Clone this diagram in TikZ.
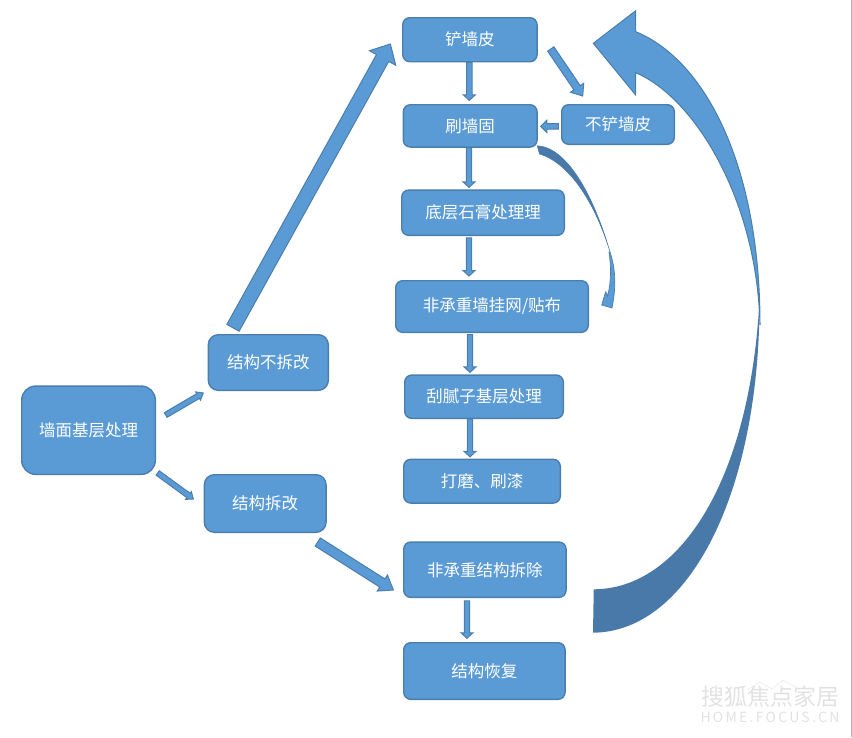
\documentclass[tikz,border=0pt]{standalone}
\usepackage{fontspec}
\setmainfont{Noto Sans CJK SC}
\usetikzlibrary{calc}
\definecolor{boxfill}{HTML}{5B9BD5}
\definecolor{boxline}{HTML}{4A7EAD}
\definecolor{bandfill}{HTML}{4879A8}
\definecolor{markgray}{HTML}{E2E2E2}
\tikzset{
  box/.style={draw=boxline,fill=boxfill,line width=1.4pt,rounded corners=7pt,text=white,font=\fontsize{16.5}{20}\selectfont,inner sep=0pt},
  blockarrow/.style n args={3}{draw=boxline,fill=boxfill,line width=1pt,
    to path={(\tikztostart) coordinate (p) (\tikztotarget) coordinate (q) ($(q)!#3!(p)$) coordinate (m)
      ($(p)!#1!90:(q)$) -- ($(m)!#1!-90:(p)$) -- ($(m)!#2!-90:(p)$) -- (q)
      -- ($(m)!#2!90:(p)$) -- ($(m)!#1!90:(p)$) -- ($(p)!#1!-90:(q)$) -- cycle}},
}
\begin{document}
\begin{tikzpicture}[x=1pt,y=-1pt]
\useasboundingbox (0,0) rectangle (852,737);
\draw [color=gray!60] (851.5,0) -- (851.5,737);

\node [box,minimum width=134.3pt,minimum height=44pt] (chan) at (469.9,39.7) {铲墙皮};
\node [box,minimum width=133.7pt,minimum height=42.3pt] (shua) at (470.2,125.9) {刷墙固};
\node [box,minimum width=112.6pt,minimum height=39.6pt] (buchan) at (618,124.5) {不铲墙皮};
\node [box,minimum width=162.6pt,minimum height=45.3pt] (diceng) at (483,212.7) {底层石膏处理理};
\node [box,minimum width=192.6pt,minimum height=51.6pt] (guawang) at (492,306.5) {非承重墙挂网/贴布};
\node [box,minimum width=158.6pt,minimum height=43.3pt] (guani) at (484,396.7) {刮腻子基层处理};
\node [box,minimum width=156.6pt,minimum height=43.7pt] (damo) at (482,481.2) {打磨、刷漆};
\node [box,minimum width=162.3pt,minimum height=55.3pt] (chaichu) at (484.9,569.7) {非承重结构拆除};
\node [box,minimum width=161.3pt,minimum height=56.6pt] (huifu) at (484.4,671) {结构恢复};
\node [box,rounded corners=14pt,minimum width=133.6pt,minimum height=88.3pt] (jiceng) at (88.5,430.2) {墙面基层处理};
\node [box,rounded corners=10pt,minimum width=120pt,minimum height=55.6pt] (bugai) at (268.3,362.5) {结构不拆改};
\node [box,rounded corners=10pt,minimum width=121.7pt,minimum height=57.6pt] (chaigai) at (265.2,503.5) {结构拆改};

\draw [blockarrow={2.7pt}{6pt}{5.5pt}] ($(chan.south)+(-.6,0)$) to ($(shua.north)+(-.9,-3.7)$);
\draw [blockarrow={2.7pt}{6pt}{5.5pt}] ($(shua.south)+(-1.2,0)$) to ($(diceng.north)+(-14,-2)$);
\draw [blockarrow={2.7pt}{6pt}{5.5pt}] ($(diceng.south)+(-14,1.7)$) to ($(guawang.north)+(-23,-4)$);
\draw [blockarrow={2.7pt}{6pt}{5.5pt}] ($(guawang.south)+(-22,1.7)$) to ($(guani.north)+(-14,-2)$);
\draw [blockarrow={2.7pt}{6pt}{5.5pt}] ($(guani.south)+(-14,0)$) to ($(damo.north)+(-12,-1.8)$);
\draw [blockarrow={2.7pt}{6pt}{5.5pt}] ($(chaichu.south)+(-17.9,2.7)$) to ($(huifu.north)+(-17.4,-3.7)$);
\draw [blockarrow={3.8pt}{8pt}{10pt}] ($(chan.east)+(13,9.3)$) to ($(buchan.north)+(-35.3,-8)$);
\draw [blockarrow={2.7pt}{6pt}{6pt}] ($(buchan.west)+(-2.7,1.8)$) to ($(shua.east)+(3,.4)$);
\draw [blockarrow={2.7pt}{4.8pt}{6pt}] ($(jiceng.east)+(9.7,-15.2)$) to ($(bugai.west)+(-4.3,30.5)$);
\draw [blockarrow={2.7pt}{4.8pt}{6pt}] ($(jiceng.east)+(1.7,42.8)$) to ($(chaigai.west)+(-10.3,-4.5)$);
\draw [blockarrow={4.8pt}{9.5pt}{13pt}] ($(chaigai.east)+(-9,38.5)$) to ($(chaichu.west)+(-9.7,20.3)$);
\draw [blockarrow={7pt}{15pt}{16pt}] ($(bugai.north)+(-35.3,-6.2)$) to ($(chan.west)+(-11.7,4.3)$);

% big return arrow
\draw [draw=boxline,fill=boxfill,line width=1pt] (635.7,31.7) -- (635.7,10.7) -- (593.3,43.3) -- (635.7,95) -- (635.7,72.7)
  .. controls (695,98) and (757,200) .. (760,325) .. controls (760,165) and (705,60) .. (635.7,31.7) -- cycle;
\fill [bandfill] ($(chaichu.east)+(27,19.6)$) .. controls (680,589) and (750,480) .. (759.5,300)
  .. controls (760,490) and (690,632) .. (593,632.7) -- cycle;

% small curved arrow
\draw [draw=boxline,fill=boxfill,line width=.7pt] (610,252) .. controls (616,270) and (616,288) .. (612,308) -- (601.7,305) -- (605.7,291.7) -- (607.5,296)
  .. controls (611.5,282) and (611,265) .. (609,252) -- cycle;
\draw [draw=bandfill,fill=bandfill,line width=.5pt] ($(shua.south east)+(-.5,-2)$) .. controls (565,147) and (592,190) .. (610,252)
  .. controls (596,205) and (570,163) .. (539.5,154) -- cycle;

% watermark
\draw [markgray] (747,690) -- (760,682) -- (772,689) -- (783,680) -- (797,688);
\node [text=markgray,font=\fontsize{23}{24}\selectfont,inner sep=0pt] (mark) at (770,697) {搜狐焦点家居};
\node [text=markgray,font=\fontsize{14}{15}\selectfont\addfontfeature{LetterSpace=16},inner sep=0pt] (site) at (770,717) {HOME.FOCUS.CN};
\end{tikzpicture}
\end{document}
